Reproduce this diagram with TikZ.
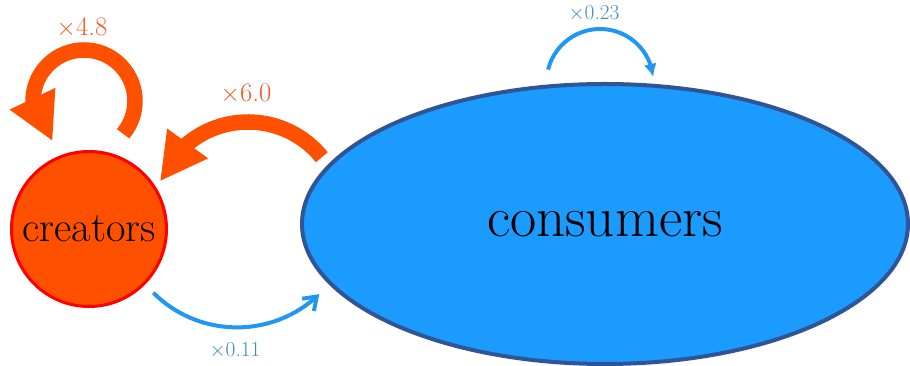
\documentclass[tikz,border=0pt]{standalone}
\usepackage{fontspec}
\usetikzlibrary{arrows.meta,bending,shapes.geometric,calc}
\definecolor{orfill}{RGB}{255,80,0}
\definecolor{orlabel}{RGB}{240,90,40}
\definecolor{bluefill}{RGB}{28,155,255}
\definecolor{blueborder}{RGB}{47,85,151}
\definecolor{bluearrow}{RGB}{33,150,243}
\definecolor{bluelabel}{RGB}{60,140,210}
\tikzset{
  orarrow/.style={draw=orfill, line width=15.5pt, -{Triangle[length=47pt,width=47pt]}},
  bluebarb/.style={draw=bluearrow, line width=4pt, -{Straight Barb[length=12pt,width=17pt]}},
  bluelatex/.style={draw=bluearrow, line width=4pt, -{Latex[length=13pt,width=13pt]}},
  orlab/.style={text=orlabel, font=\fontsize{26.7}{30}\selectfont, inner sep=0pt},
  bluelab/.style={text=bluelabel, font=\fontsize{21.3}{25}\selectfont, inner sep=0pt}
}
\begin{document}
\begin{tikzpicture}[x=1pt,y=1pt]
\useasboundingbox (0,0) rectangle (910,366);
\node[circle, fill=orfill, draw=red, line width=3pt, minimum size=155pt, inner sep=0pt,
      font=\fontsize{42.3}{50}\selectfont] (cre) at (89,137) {creators};
\node[ellipse, fill=bluefill, draw=blueborder, line width=4pt, minimum width=606pt,
      minimum height=280pt, inner sep=0pt, font=\fontsize{57}{66}\selectfont] (con) at (605,142) {consumers};
% self loop on creators
\draw[orarrow] ($(cre.center)+(-5,128)$) ++(-40:51) arc[start angle=-40, end angle=232, radius=51];
% consumers -> creators
\draw[orarrow] ($(cre.center)+(159,12)$) ++(39:95) arc[start angle=39, end angle=158, radius=95];
% creators -> consumers
\draw[bluebarb] ($(cre.center)+(148,20)$) ++(225:118.4) arc[start angle=225, end angle=314, radius=118.4];
% self loop on consumers
\draw[bluelatex] ($(con.center)+(-5,141.5)$) ++(166:53.5) arc[start angle=166, end angle=6, radius=53.5];
% labels
\node[orlab] (l48) at (82,338) {$\times$4.8};
\node[orlab] (l60) at (246,272) {$\times$6.0};
\node[bluelab] (l011) at (235,16) {$\times$0.11};
\node[bluelab] (l023) at (594,353) {$\times$0.23};
\end{tikzpicture}
\end{document}
